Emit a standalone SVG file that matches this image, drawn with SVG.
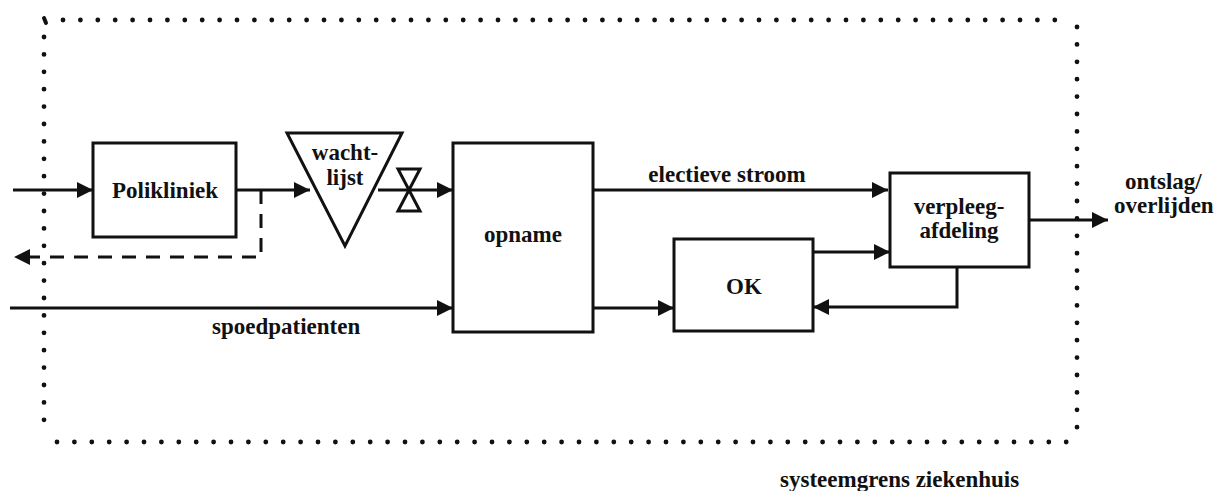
<svg xmlns="http://www.w3.org/2000/svg" width="1215" height="491" viewBox="0 0 1215 491">
<style>
.box{fill:#fff;stroke:#111;stroke-width:3}
.ln{fill:none;stroke:#111;stroke-width:3}
.dash{fill:none;stroke:#111;stroke-width:3;stroke-dasharray:14 10}
.dot{fill:none;stroke:#111;stroke-width:4.8;stroke-linecap:round;stroke-dasharray:0 17.4}
text{font-family:'Liberation Serif','Times New Roman',serif;font-weight:bold;font-size:23px;fill:#111}
.c{text-anchor:middle}
</style>
<defs>
<marker id="ah" markerUnits="userSpaceOnUse" markerWidth="18" markerHeight="16" refX="16" refY="8" orient="auto">
<path d="M0,0 L16,8 L0,16 Z" fill="#111"/>
</marker>
</defs>
<g id="boundary">
<path class="dot" d="M63,20 H1072"/>
<path class="dot" d="M1077,27 V441"/>
<path class="dot" d="M57,442 H1077"/>
<path class="dot" d="M44,37 V437"/>
<path d="M44,18 L46,23" stroke="#111" stroke-width="4" stroke-linecap="round"/>
</g>
<g id="connectors">
<path class="ln" d="M13,190 H93" marker-end="url(#ah)"/>
<path class="ln" d="M236,190 H310" marker-end="url(#ah)"/>
<path class="dash" d="M261,190 V257 H30"/>
<path d="M30,249 L14,257 L30,265 Z" fill="#111"/>
<path class="ln" d="M378,190 H453" marker-end="url(#ah)"/>
<path class="ln" d="M593,190 H888" marker-end="url(#ah)"/>
<path class="ln" d="M10,308 H453" marker-end="url(#ah)"/>
<path class="ln" d="M593,308 H674" marker-end="url(#ah)"/>
<path class="ln" d="M813,252 H890" marker-end="url(#ah)"/>
<path class="ln" d="M957,267 V307 H813" marker-end="url(#ah)"/>
<path class="ln" d="M1029,220 H1108" marker-end="url(#ah)"/>
</g>
<g id="polikliniek">
<rect class="box" x="93" y="143" width="143" height="94"/>
<text class="c" x="165" y="198">Polikliniek</text>
</g>
<g id="wachtlijst">
<path class="box" d="M287,133 H402 L345,246 Z"/>
<text class="c" x="345" y="160">wacht-</text>
<text class="c" x="345" y="185">lijst</text>
</g>
<g id="klep">
<path class="box" d="M398,169 H420 L398,211 H420 Z" style="fill:none"/>
</g>
<g id="opname">
<rect class="box" x="453" y="143" width="140" height="189"/>
<text class="c" x="523" y="242">opname</text>
</g>
<g id="ok">
<rect class="box" x="674" y="239" width="139" height="92"/>
<text class="c" x="744" y="294">OK</text>
</g>
<g id="verpleegafdeling">
<rect class="box" x="890" y="173" width="139" height="94"/>
<text class="c" x="959" y="214">verpleeg-</text>
<text class="c" x="959" y="238">afdeling</text>
</g>
<g id="labels">
<text class="c" x="727" y="182">electieve stroom</text>
<text x="212" y="334">spoedpatienten</text>
<text x="1125" y="189">ontslag/</text>
<text x="1114" y="213">overlijden</text>
<text x="780" y="487">systeemgrens ziekenhuis</text>
</g>
</svg>
